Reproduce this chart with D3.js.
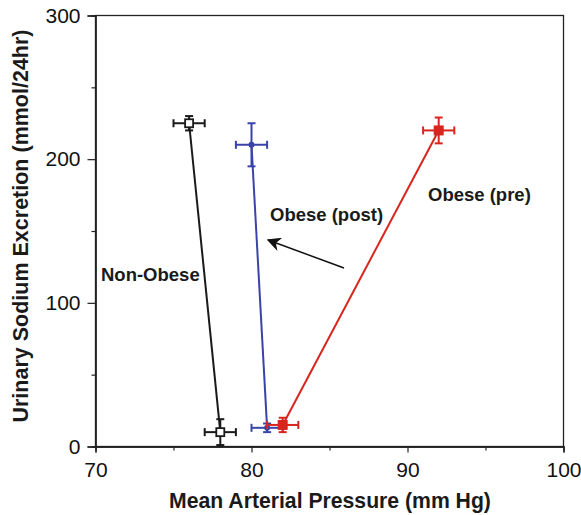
<!DOCTYPE html>
<html>
<head>
<meta charset="utf-8">
<script src="https://cdn.jsdelivr.net/npm/d3@7"></script>
<style>
  html, body { margin: 0; padding: 0; background: #fff; }
  svg { display: block; font-family: "Liberation Sans", Arial, sans-serif; }
</style>
</head>
<body>
<svg id="chart" width="581" height="515"></svg>
<script>
// Groups and their (MAP, sodium) means with SEM in both directions
const groups = ["Non-Obese", "Obese (post)", "Obese (pre)"];
const groupColors = ["#1a1a1a", "#3a44a8", "#d8261e"];
const mapValues = [[76, 78], [80, 81], [92, 82]];
const sodiumValues = [[225, 10], [210, 13], [220, 15]];
const mapErrors = [[1, 1], [1, 1], [1, 1]];
const sodiumErrors = [[5, 9], [15, 3], [9, 5]];
const xTicks = [70, 80, 90, 100];
const xMinorTicks = [75, 85, 95];
const yTicks = [0, 100, 200, 300];
const yMinorTicks = [50, 150, 250];

const svg = d3.select("#chart");
const plotLeft = 95.5, plotRight = 563.5, plotTop = 15.5, plotBottom = 446.5;

const x = d3.scaleLinear().domain([70, 100]).range([plotLeft, plotRight]);
const y = d3.scaleLinear().domain([0, 300]).range([plotBottom, plotTop]);

// Frame
svg.append("rect")
  .attr("x", plotLeft).attr("y", plotTop)
  .attr("width", plotRight - plotLeft).attr("height", plotBottom - plotTop)
  .attr("fill", "none").attr("stroke", "#222").attr("stroke-width", 1.3);

// Axes
svg.append("g").attr("transform", `translate(0,${plotBottom})`)
  .call(d3.axisBottom(x).tickValues(xTicks).tickSize(6).tickPadding(10).tickFormat(d3.format("d")));
svg.append("g").attr("transform", `translate(0,${plotBottom})`)
  .call(d3.axisBottom(x).tickValues(xMinorTicks).tickSize(4).tickFormat(""));
svg.append("g").attr("transform", `translate(${plotLeft},0)`)
  .call(d3.axisLeft(y).tickValues(yTicks).tickSize(8).tickPadding(7).tickFormat(d3.format("d")));
svg.append("g").attr("transform", `translate(${plotLeft},0)`)
  .call(d3.axisLeft(y).tickValues(yMinorTicks).tickSize(4).tickFormat(""));

svg.selectAll(".domain").attr("stroke", "#222").attr("stroke-width", 1.3);
svg.selectAll(".tick line").attr("stroke", "#222").attr("stroke-width", 1.2);
svg.selectAll(".tick text").attr("font-size", 21).attr("fill", "#111")
  .attr("font-family", "Liberation Sans, Arial, sans-serif");

// Axis titles
svg.append("text")
  .attr("x", 330).attr("y", 508)
  .attr("text-anchor", "middle").attr("font-size", 21.2).attr("font-weight", "bold").attr("fill", "#1a1a1a")
  .text("Mean Arterial Pressure (mm Hg)");
svg.append("text")
  .attr("transform", `translate(28,226) rotate(-90)`)
  .attr("text-anchor", "middle").attr("font-size", 21.5).attr("font-weight", "bold").attr("fill", "#1a1a1a")
  .text("Urinary Sodium Excretion (mmol/24hr)");

// Series
groups.forEach((g, i) => {
  const c = groupColors[i];
  const pts = mapValues[i].map((mx, j) => ({
    mx, sy: sodiumValues[i][j], ex: mapErrors[i][j], ey: sodiumErrors[i][j]
  }));
  const gs = svg.append("g");

  gs.append("path")
    .datum(pts)
    .attr("d", d3.line().x(d => x(d.mx)).y(d => y(d.sy)))
    .attr("fill", "none").attr("stroke", c).attr("stroke-width", 2);

  const cap = 4;
  pts.forEach(d => {
    const cx = x(d.mx), cy = y(d.sy);
    const eb = gs.append("g").attr("stroke", c).attr("stroke-width", 2);
    eb.append("line").attr("x1", x(d.mx - d.ex)).attr("x2", x(d.mx + d.ex)).attr("y1", cy).attr("y2", cy);
    eb.append("line").attr("x1", x(d.mx - d.ex)).attr("x2", x(d.mx - d.ex)).attr("y1", cy - cap).attr("y2", cy + cap);
    eb.append("line").attr("x1", x(d.mx + d.ex)).attr("x2", x(d.mx + d.ex)).attr("y1", cy - cap).attr("y2", cy + cap);
    eb.append("line").attr("x1", cx).attr("x2", cx).attr("y1", y(d.sy - d.ey)).attr("y2", y(d.sy + d.ey));
    eb.append("line").attr("x1", cx - cap).attr("x2", cx + cap).attr("y1", y(d.sy - d.ey)).attr("y2", y(d.sy - d.ey));
    eb.append("line").attr("x1", cx - cap).attr("x2", cx + cap).attr("y1", y(d.sy + d.ey)).attr("y2", y(d.sy + d.ey));

    if (i === 0) {
      gs.append("rect").attr("x", cx - 4).attr("y", cy - 4).attr("width", 8).attr("height", 8)
        .attr("fill", "#fff").attr("stroke", c).attr("stroke-width", 1.8);
    } else if (i === 1) {
      gs.append("circle").attr("cx", cx).attr("cy", cy).attr("r", 3).attr("fill", c);
    } else {
      gs.append("rect").attr("x", cx - 5).attr("y", cy - 5).attr("width", 10).attr("height", 10).attr("fill", c);
    }
  });
});

// Group labels
const labelPos = [[101, 281], [270, 221], [428, 201]];
groups.forEach((g, i) => {
  svg.append("text")
    .attr("x", labelPos[i][0]).attr("y", labelPos[i][1])
    .attr("font-size", 18.5).attr("font-weight", "bold").attr("fill", "#1a1a1a")
    .text(g);
});

// Arrow pointing from pre to post
svg.append("defs").append("marker")
  .attr("id", "arrowhead").attr("viewBox", "0 0 10 10")
  .attr("refX", 9).attr("refY", 5)
  .attr("markerWidth", 14).attr("markerHeight", 14)
  .attr("markerUnits", "userSpaceOnUse")
  .attr("orient", "auto")
  .append("path").attr("d", "M0,0 L10,5 L0,10 L3,5 Z").attr("fill", "#111");
svg.append("line")
  .attr("x1", 344).attr("y1", 268).attr("x2", 268).attr("y2", 240)
  .attr("stroke", "#111").attr("stroke-width", 1.5)
  .attr("marker-end", "url(#arrowhead)");
</script>
</body>
</html>
